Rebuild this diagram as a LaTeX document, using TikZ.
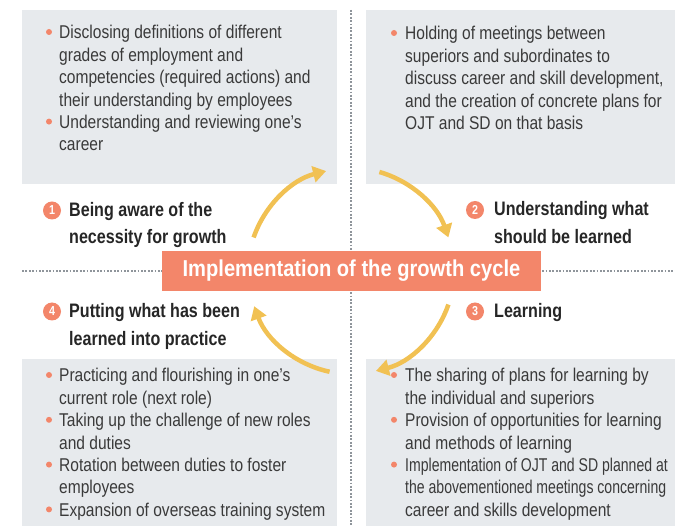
\documentclass[tikz,border=0pt]{standalone}
\usepackage{fontspec}
\setmainfont{Liberation Sans}
\newfontfamily\bodyf{Liberation Sans}[FakeStretch=0.84]
\newfontfamily\bodyn{Liberation Sans}[FakeStretch=0.76]
\newfontfamily\headf{Liberation Sans}[FakeStretch=0.825]
\newfontfamily\centf{Liberation Sans}[FakeStretch=0.875]
\usetikzlibrary{arrows.meta}
\definecolor{orng}{HTML}{F3866A}
\definecolor{greybox}{HTML}{E7EAED}
\definecolor{arr}{HTML}{F1C153}
\definecolor{dotc}{HTML}{8F959B}
\definecolor{bodyc}{HTML}{3A3A3A}
\definecolor{headc}{HTML}{262626}
\newcommand\blines[1]{{\bodyf\fontsize{18.5}{22.4}\selectfont\begin{tabular}[t]{@{}l@{}}#1\end{tabular}}}
\newcommand\hlines[1]{{\headf\bfseries\fontsize{19.5}{27.5}\selectfont\begin{tabular}[t]{@{}l@{}}#1\end{tabular}}}
\tikzset{
  panel/.style={fill=greybox, draw=none},
  bodytext/.style={anchor=base west, inner sep=0pt, text=bodyc},
  headtext/.style={anchor=base west, inner sep=0pt, text=headc},
  bul/.style={fill=orng, draw=none, circle, inner sep=0pt, minimum size=6pt},
  num/.style={fill=orng, draw=none, circle, inner sep=0pt, minimum size=18pt, text=white, font=\headf\bfseries\fontsize{13}{13}\selectfont},
  sep/.style={dotc, line width=1.8pt, dash pattern=on 1.8pt off 1.6pt},
  cyc/.style={arr, line width=4.5pt, -{Triangle[width=16pt,length=13pt]}},
  centre/.style={fill=orng, draw=none, minimum width=379pt, minimum height=40pt, inner sep=0pt, text=white, font=\centf\bfseries\fontsize{23}{23}\selectfont}
}
\begin{document}
\begin{tikzpicture}[x=1pt,y=1pt]
\useasboundingbox (0,0) rectangle (675,-526);
% panels
\fill[panel] (22,-10) rectangle (337,-184);
\fill[panel] (366,-10) rectangle (675,-184);
\fill[panel] (22,-359) rectangle (337,-526);
\fill[panel] (366,-359) rectangle (675,-526);
% separators
\coordinate (vt) at (351,-10);
\coordinate (vb) at (351,-526);
\coordinate (hl) at (22,-271);
\coordinate (hr) at (675,-271);
\draw[sep] (vt) -- (vb);
\draw[sep] (hl) -- (hr);
% centre box
\node[centre] (ctr) at (351.5,-271) {Implementation of the growth cycle};
% cycle arrows
\coordinate (C) at (351,-271);
\coordinate (a1) at ([shift={(161:103)}]C);
\coordinate (a2) at ([shift={(74:103)}]C);
\coordinate (a3) at ([shift={(-19:103)}]C);
\coordinate (a4) at ([shift={(-102:103)}]C);
\draw[cyc] (a1) arc[start angle=161, end angle=104, radius=103];
\draw[cyc] (a2) arc[start angle=74, end angle=19, radius=103];
\draw[cyc] (a3) arc[start angle=-19, end angle=-76, radius=103];
\draw[cyc] (a4) arc[start angle=-102, end angle=-160, radius=103];
% headings
\node[num] (n1) at (52,-210.5) {1};
\node[headtext] (h1) at (69,-216.5) {\hlines{Being aware of the\\necessity for growth}};
\node[num] (n2) at (475,-210) {2};
\node[headtext] (h2) at (494,-216) {\hlines{Understanding what\\should be learned}};
\node[num] (n3) at (475,-311.5) {3};
\node[headtext] (h3) at (494,-318) {\hlines{Learning}};
\node[num] (n4) at (52,-311.5) {4};
\node[headtext] (h4) at (69,-318) {\hlines{Putting what has been\\learned into practice}};
% panel 1
\node[bodytext] (t1) at (59,-39) {\blines{Disclosing definitions of different\\grades of employment and\\competencies (required actions) and\\their understanding by employees\\Understanding and reviewing one’s\\career}};
\node[bul] (b11) at (49,-32) {};
\node[bul] (b12) at (49,-121.6) {};
% panel 2
\node[bodytext] (t2) at (405,-40) {\blines{Holding of meetings between\\superiors and subordinates to\\discuss career and skill development,\\and the creation of concrete plans for\\OJT and SD on that basis}};
\node[bul] (b21) at (394,-33) {};
% panel 4
\node[bodytext] (t4) at (59,-382) {\blines{Practicing and flourishing in one’s\\current role (next role)\\Taking up the challenge of new roles\\and duties\\Rotation between duties to foster\\employees\\Expansion of overseas training system}};
\node[bul] (b41) at (49,-375) {};
\node[bul] (b42) at (49,-419.8) {};
\node[bul] (b43) at (49,-464.6) {};
\node[bul] (b44) at (49,-509.4) {};
% panel 3
\node[bodytext] (t3) at (405,-382) {\blines{The sharing of plans for learning by\\the individual and superiors\\Provision of opportunities for learning\\and methods of learning\\\bodyn Implementation of OJT and SD planned at\\\bodyn the abovementioned meetings concerning\\career and skills development}};
\node[bul] (b31) at (394,-375) {};
\node[bul] (b32) at (394,-419.8) {};
\node[bul] (b33) at (394,-464.6) {};
\end{tikzpicture}
\end{document}
